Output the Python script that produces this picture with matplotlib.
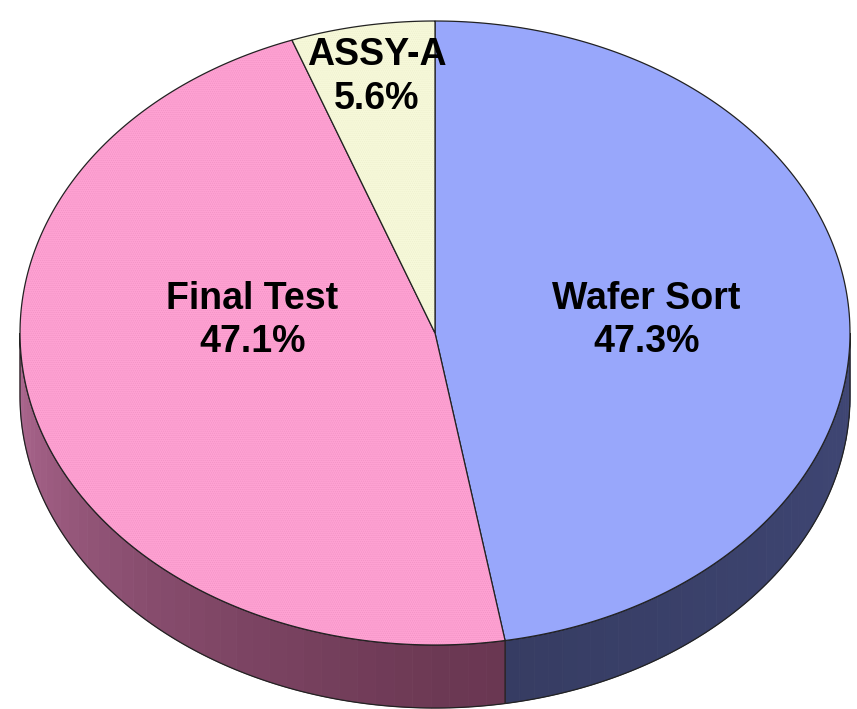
import numpy as np
import matplotlib.pyplot as plt
from matplotlib.patches import Polygon
from matplotlib.colors import to_rgb

# data
labels = ['Wafer Sort', 'Final Test', 'ASSY-A']
shares = [47.3, 47.1, 5.6]

# styling
plt.rcParams['hatch.linewidth'] = 0.6
top_colors = ['#a2b0ff', '#ffa2d3', '#f7f9da']
side_colors = [('#3f4674', '#363c62'), ('#6a3752', '#b06a93'), ('#b8ba9a', '#8f9078')]
hatch_colors = ['#98a7fb', '#f294c6', '#eef0cf']
hatches = ['|' * 22, '.' * 8, '.' * 8]
# label centres as fractions of the semi-axes, relative to the pie centre
label_offsets = [(0.51, -0.04), (-0.44, -0.04), (-0.14, -0.82)]

W, H = 857, 709
cx, cy = 435, 333      # centre of the top face (pixels)
a, b = 415, 312        # semi-axes of the top face
depth = 63             # thickness of the tilted disk

fig = plt.figure(figsize=(W / 100, H / 100), dpi=100)
ax = fig.add_axes([0, 0, 1, 1])
ax.set_xlim(0, W)
ax.set_ylim(H, 0)
ax.axis('off')


def pt(theta_deg, dz=0.0):
    # clockwise angle from 12 o'clock on the tilted ellipse
    t = np.radians(theta_deg)
    return cx + a * np.sin(t), cy - b * np.cos(t) + dz


fracs = np.array(shares) / sum(shares)
bounds = np.concatenate([[0], np.cumsum(fracs) * 360])

# side walls (front half only: 90..270 degrees)
for i in range(len(shares)):
    lo, hi = max(bounds[i], 90), min(bounds[i + 1], 270)
    if hi <= lo:
        continue
    c0, c1 = np.array(to_rgb(side_colors[i][0])), np.array(to_rgb(side_colors[i][1]))
    steps = np.linspace(lo, hi, 40)
    for k in range(len(steps) - 1):
        s0, s1 = steps[k], steps[k + 1]
        f = (s0 - lo) / (hi - lo)
        col = c0 + (c1 - c0) * np.clip(f, 0, 1) ** 1.3
        arc = np.linspace(s0, s1, 6)
        top = [pt(s) for s in arc]
        bot = [pt(s, depth) for s in arc[::-1]]
        ax.add_patch(Polygon(top + bot, closed=True, facecolor=col,
                             edgecolor=col, lw=0.6))
    arc = np.linspace(lo, hi, 120)
    outline = [pt(s) for s in arc] + [pt(s, depth) for s in arc[::-1]]
    ax.add_patch(Polygon(outline, closed=True, facecolor='none',
                         edgecolor='#222222', lw=0.9))

# top face wedges
for i in range(len(shares)):
    arc = np.linspace(bounds[i], bounds[i + 1], 200)
    verts = [(cx, cy)] + [pt(s) for s in arc]
    ax.add_patch(Polygon(verts, closed=True, facecolor=top_colors[i],
                         edgecolor='none'))
    ax.add_patch(Polygon(verts, closed=True, facecolor='none', lw=0,
                         edgecolor=hatch_colors[i], hatch=hatches[i]))
    ax.add_patch(Polygon(verts, closed=True, facecolor='none',
                         edgecolor='#222222', lw=0.9))

# labels
for i, lab in enumerate(labels):
    dx, dy = label_offsets[i]
    ax.text(cx + dx * a, cy + dy * b, f'{lab}\n{shares[i]:.1f}%',
            ha='center', va='center', fontsize=27, fontweight='bold',
            family='Liberation Sans', color='black', linespacing=1.28)

fig.savefig('out.png', dpi=100)
